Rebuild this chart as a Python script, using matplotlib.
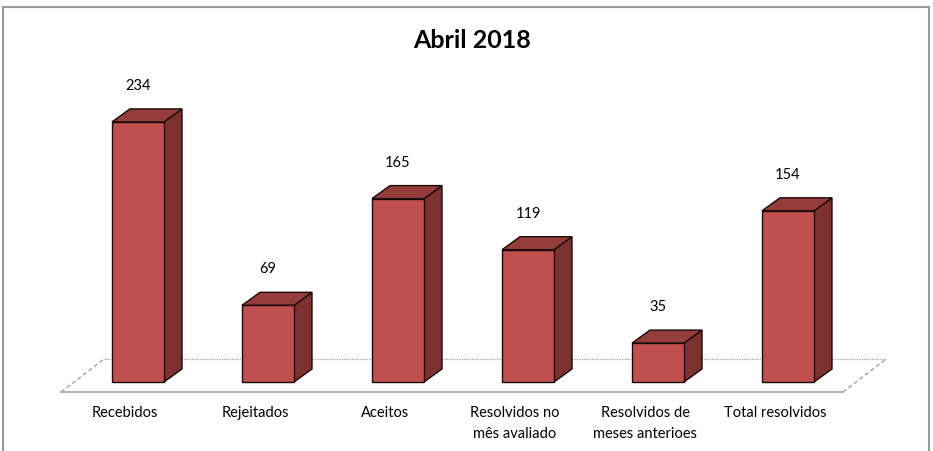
import matplotlib
matplotlib.use("Agg")
import matplotlib.pyplot as plt
from matplotlib.patches import Polygon, Rectangle
from matplotlib.lines import Line2D

# ---- data ----
categories = ["Recebidos", "Rejeitados", "Aceitos", "Resolvidos no\nmês avaliado",
              "Resolvidos de\nmeses anterioes", "Total resolvidos"]
values = [234, 69, 165, 119, 35, 154]
title = "Abril 2018"

plt.rcParams['font.family'] = ['Lato', 'DejaVu Sans']

FRONT = "#C0504D"
SIDE = "#7D3230"
TOP = "#943D3B"
EDGE = "#1a0a0a"

fig = plt.figure(figsize=(9.33, 4.52), dpi=100)
# border
fig.patches.append(Rectangle((3/933, -0.05), 926/933, 1 - 8/452 + 0.05, transform=fig.transFigure,
                             fill=False, edgecolor="#9a9a9a", linewidth=1.5))

ax = fig.add_axes([60/933, (452-383)/452, 806/933, (383-94)/452])
ax.set_xlim(-0.6, 5.6)
ax.set_ylim(0, 260)
ax.axis('off')

W = 0.4            # bar width (x units)
DX = 18/130        # depth offset in x units
DY = 13/1.111      # depth offset in y units

# floor
fx0, fx1, fy0 = -0.592, 5.423, -9
fdx, fdy = 0.331, 29.7
ax.add_line(Line2D([fx0, fx1], [fy0, fy0], color="#a6a6a6", lw=1.2, clip_on=False, zorder=1))
ax.add_line(Line2D([fx0 + fdx, fx1 + fdx], [fy0 + fdy, fy0 + fdy], color="#a0a0a0", lw=0.9,
                   linestyle=(0, (1, 1)), clip_on=False, zorder=1))
ax.add_line(Line2D([fx0, fx0 + fdx], [fy0, fy0 + fdy], color="#a0a0a0", lw=1.0,
                   linestyle=(0, (3, 2)), clip_on=False, zorder=1))
ax.add_line(Line2D([fx1, fx1 + fdx], [fy0, fy0 + fdy], color="#a0a0a0", lw=1.0,
                   linestyle=(0, (3, 2)), clip_on=False, zorder=1))

xs = list(range(len(categories)))
ax.bar(xs, values, width=W, color=FRONT, edgecolor=EDGE, linewidth=1.0, zorder=3, clip_on=False)
for x, v in zip(xs, values):
    r = x + W/2
    l = x - W/2
    side = Polygon([(r, 0), (r + DX, DY), (r + DX, v + DY), (r, v)], closed=True,
                   facecolor=SIDE, edgecolor=EDGE, linewidth=1.0, zorder=2, clip_on=False)
    top = Polygon([(l, v), (l + DX, v + DY), (r + DX, v + DY), (r, v)], closed=True,
                  facecolor=TOP, edgecolor=EDGE, linewidth=1.0, zorder=2, clip_on=False)
    ax.add_patch(side)
    ax.add_patch(top)
    ax.annotate(str(v), (x, v), xytext=(0, 37), textcoords='offset pixels',
                ha='center', va='center', fontsize=10.5, color="#000000", annotation_clip=False)

for x, lab in zip(xs, categories):
    ax.annotate(lab, (x, 0), xytext=(-13, -23), textcoords='offset pixels',
                ha='center', va='top', fontsize=10.5, linespacing=1.62, annotation_clip=False)

fig.text(472/933, 1 - 40/452, title, ha='center', va='center', fontsize=18, fontweight='bold')

fig.savefig("out.png", dpi=100)
